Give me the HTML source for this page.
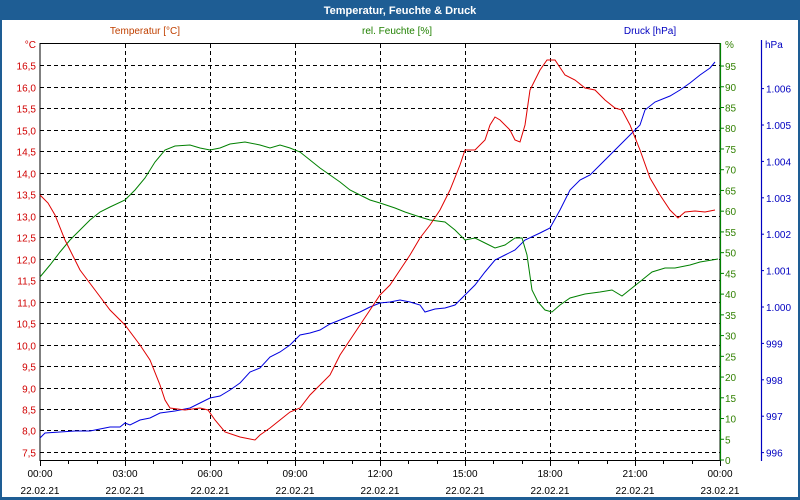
<!DOCTYPE html>
<html><head><meta charset="utf-8"><style>
html,body{margin:0;padding:0;background:#fff;}
svg{display:block;font-family:"Liberation Sans","DejaVu Sans",sans-serif;}
</style></head><body>
<svg id="s" width="800" height="500" xmlns="http://www.w3.org/2000/svg">
<rect x="0" y="0" width="800" height="500" fill="#1e5d94"/>
<rect x="2" y="20" width="796" height="477" fill="#fff"/>
<text x="400" y="14" fill="#fff" font-size="11" font-weight="bold" text-anchor="middle">Temperatur, Feuchte &amp; Druck</text>
<text x="145" y="34" fill="#c04000" font-size="10" text-anchor="middle">Temperatur [°C]</text>
<text x="397" y="34" fill="#208000" font-size="10" text-anchor="middle">rel. Feuchte [%]</text>
<text x="650" y="34" fill="#0000c0" font-size="10" text-anchor="middle">Druck [hPa]</text>
<g id="grid"></g>
<rect x="40" y="43.5" width="680" height="417" fill="none" stroke="#000" stroke-width="1"/>
<line x1="720.5" y1="43" x2="720.5" y2="461" stroke="#008000" stroke-width="1.2"/>
<line x1="761.5" y1="40" x2="761.5" y2="461" stroke="#0000c0" stroke-width="1.2"/>
<g id="lab"></g>
<polyline fill="none" stroke="#0000e0" stroke-width="1" points="40,438 45,433 60,432 75,431 90,431 100,429 110,427 120,427 125,423 130,425 140,420 150,418 160,413 175,411 190,408 200,403 210,398 220,396 230,390 240,383 250,372 260,368 270,357 280,352 290,345 300,335 310,333 320,330 330,324 340,320 350,316 360,312 370,307 380,303 390,302 400,300 410,302 420,305 425,312 435,309 445,308 455,305 465,295 475,285 485,272 495,260 505,255 515,250 525,240 540,233 550,228 560,210 570,190 580,180 590,175 600,165 610,155 620,145 630,135 640,125 645,110 655,102 670,96 680,90 690,83 700,75 710,68 715,62"/>
<polyline fill="none" stroke="#008000" stroke-width="1" points="40,277 50,265 60,252 70,240 80,230 90,220 100,212 110,207 125,200 135,190 145,178 155,162 165,150 175,146 190,145 200,148 210,150 220,148 230,144 245,142 260,145 270,148 280,145 290,148 300,152 310,160 320,168 330,175 340,182 350,190 360,195 370,200 380,203 395,208 405,212 420,217 430,220 445,222 455,230 465,240 475,238 485,243 495,248 505,245 515,238 522,238 527,255 532,290 538,302 545,310 552,312 560,305 570,298 585,294 600,292 612,290 622,296 632,288 642,280 652,272 665,268 675,268 690,265 700,262 712,260 718,259"/>
<polyline fill="none" stroke="#e00000" stroke-width="1" points="40,195 48,203 55,215 65,240 80,270 95,290 110,310 125,325 140,345 150,360 160,385 165,400 170,408 185,410 200,408 208,410 215,420 225,432 240,437 255,440 260,435 270,428 280,420 290,412 300,408 310,395 320,385 330,375 340,355 350,340 360,325 370,310 380,295 390,285 400,270 410,255 420,238 430,225 440,210 450,190 460,165 465,150 475,150 485,140 490,125 495,117 500,120 510,130 515,140 520,142 525,125 530,90 540,70 547,60 555,60 565,75 575,80 585,88 595,90 605,100 615,108 622,110 630,125 640,150 650,178 660,195 670,210 678,218 685,212 695,211 705,212 715,210"/>
</svg>
<script>
var NS="http://www.w3.org/2000/svg";
function el(p,t,a,txt){var e=document.createElementNS(NS,t);for(var k in a)e.setAttribute(k,a[k]);if(txt!==undefined)e.textContent=txt;p.appendChild(e);return e;}
var g=document.getElementById('grid'),l=document.getElementById('lab');
for(var i=1;i<=19;i++){var v=17-i*0.5;var y=Math.round(44+i*21.47)+0.5;
 el(g,'line',{x1:40,x2:720,y1:y,y2:y,stroke:'#000','stroke-dasharray':'4,3'});
 el(l,'text',{x:36,y:y+4,'font-size':10,fill:'#d00000','text-anchor':'end'},v.toFixed(1).replace('.',','));}
el(l,'text',{x:36,y:48,'font-size':10,fill:'#d00000','text-anchor':'end'},'°C');
for(var h=0;h<=24;h++){var x=40+h*85/3;var xr=Math.round(x)+0.5;
 el(l,'line',{x1:xr,x2:xr,y1:460,y2:h%3==0?466:464,stroke:'#000'});
 if(h%3==0){ if(h>0&&h<24) el(g,'line',{x1:xr,x2:xr,y1:44,y2:460,stroke:'#000','stroke-dasharray':'4,3'});
  var hh=(h%24<10?'0':'')+(h%24)+':00';
  el(l,'text',{x:x,y:477,'font-size':10,fill:'#000','text-anchor':'middle'},hh);
  el(l,'text',{x:x,y:494,'font-size':10,fill:'#000','text-anchor':'middle'},h==24?'23.02.21':'22.02.21');}}
for(var v=0;v<=95;v+=5){var y=460-v*4.147;
 el(l,'line',{x1:720,x2:724,y1:y,y2:y,stroke:'#008000'});
 el(l,'text',{x:725,y:y+4,'font-size':10,fill:'#308000'},v);}
el(l,'text',{x:725,y:48,'font-size':10,fill:'#308000'},'%');
for(var v=996;v<=1006;v++){var y=307-(v-1000)*36.4;
 el(l,'line',{x1:761,x2:764,y1:y,y2:y,stroke:'#0000c0'});
 el(l,'text',{x:766,y:y+4,'font-size':10,fill:'#0000c0'},v>=1000?'1.'+String(v-1000).padStart(3,'0'):v);}
el(l,'text',{x:765,y:48,'font-size':10,fill:'#0000c0'},'hPa');
</script>
</body></html>
